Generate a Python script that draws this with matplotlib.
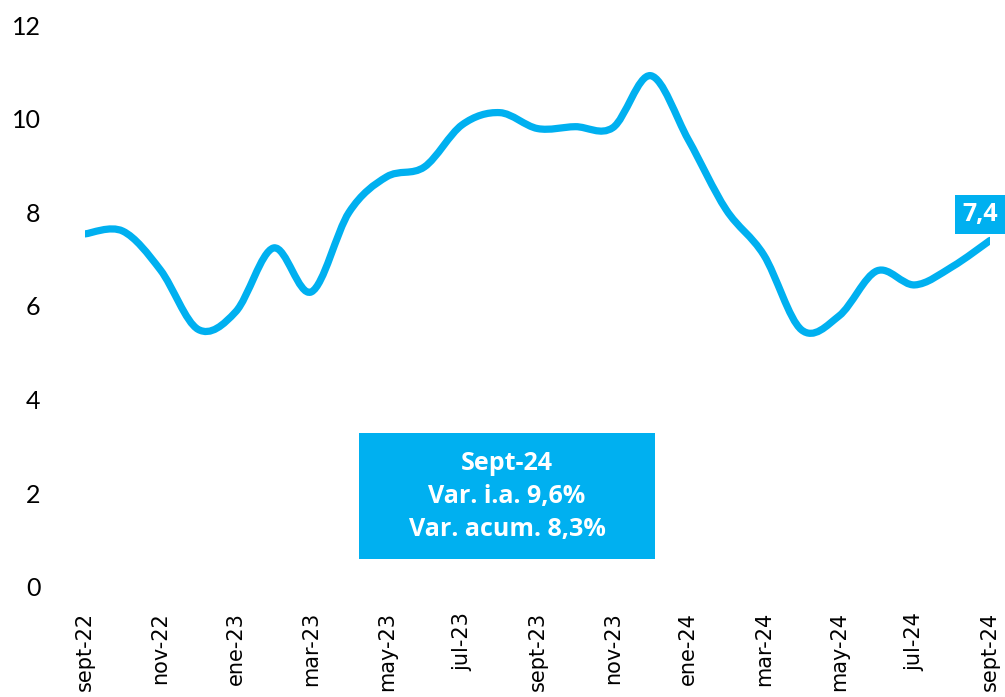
import numpy as np
import matplotlib
matplotlib.use("Agg")
import matplotlib.pyplot as plt
from matplotlib.path import Path
from matplotlib.patches import PathPatch, Rectangle

# Datos mensuales, sept-22 a sept-24
meses = ["sept-22", "oct-22", "nov-22", "dic-22", "ene-23", "feb-23", "mar-23",
         "abr-23", "may-23", "jun-23", "jul-23", "ago-23", "sept-23", "oct-23",
         "nov-23", "dic-23", "ene-24", "feb-24", "mar-24", "abr-24", "may-24",
         "jun-24", "jul-24", "ago-24", "sept-24"]
valores = [7.54, 7.6, 6.77, 5.5, 5.88, 7.24, 6.3, 8.0, 8.76, 8.97, 9.87, 10.13,
           9.79, 9.83, 9.81, 10.92, 9.55, 8.06, 7.09, 5.49, 5.79, 6.75, 6.45,
           6.84, 7.4]
etiqueta_final = "7,4"
texto_caja = "Sept-24\nVar. i.a. 9,6%\nVar. acum. 8,3%"

azul = "#00B0F0"

fig = plt.figure(figsize=(10.05, 6.97), dpi=100)
ax = fig.add_axes([0.0846, 0.158, 0.9005, 0.806])

# Linea suavizada (estilo Excel) con curvas Bezier entre los puntos
x = np.arange(len(valores), dtype=float)
y = np.array(valores)
verts = [(x[0], y[0])]
codes = [Path.MOVETO]
for i in range(len(x) - 1):
    p0 = np.array([x[max(i - 1, 0)], y[max(i - 1, 0)]])
    p1 = np.array([x[i], y[i]])
    p2 = np.array([x[i + 1], y[i + 1]])
    p3 = np.array([x[min(i + 2, len(x) - 1)], y[min(i + 2, len(x) - 1)]])
    c1 = p1 + (p2 - p0) / 6
    c2 = p2 - (p3 - p1) / 6
    verts += [tuple(c1), tuple(c2), tuple(p2)]
    codes += [Path.CURVE4] * 3
ax.add_patch(PathPatch(Path(verts, codes), fill=False, edgecolor=azul,
                       lw=5.2, capstyle="round", joinstyle="round"))

ax.set_xlim(0, len(valores) - 1)
ax.set_ylim(0, 12)
ax.set_yticks(range(0, 13, 2))
ax.set_xticks(x[::2])
ax.set_xticklabels(meses[::2], rotation=90, fontsize=15, family="DejaVu Sans",
                   va="top")
for lbl in ax.get_yticklabels():
    lbl.set_fontsize(18)
    lbl.set_family("Lato")
ax.tick_params(axis="both", length=0)
ax.tick_params(axis="x", pad=18)
ax.tick_params(axis="y", pad=32)
for s in ax.spines.values():
    s.set_visible(False)

# Etiqueta del ultimo valor
ax.annotate(etiqueta_final, (x[-1], y[-1]), xytext=(-7, 19),
            textcoords="offset points", ha="center", va="center",
            fontsize=18, fontweight="bold", color="white", family="Open Sans",
            bbox=dict(boxstyle="square,pad=0.28", fc=azul, ec="none"),
            annotation_clip=False)

# Caja de texto
fig.patches.append(Rectangle((0.357, 0.198), 0.2945, 0.181, fc=azul, ec="none",
                             transform=fig.transFigure, figure=fig))
fig.text(0.5045, 0.288, texto_caja, ha="center", va="center", fontsize=18,
         fontweight="bold", color="white", family="Open Sans", linespacing=1.42)

fig.savefig("out.png", dpi=100)
